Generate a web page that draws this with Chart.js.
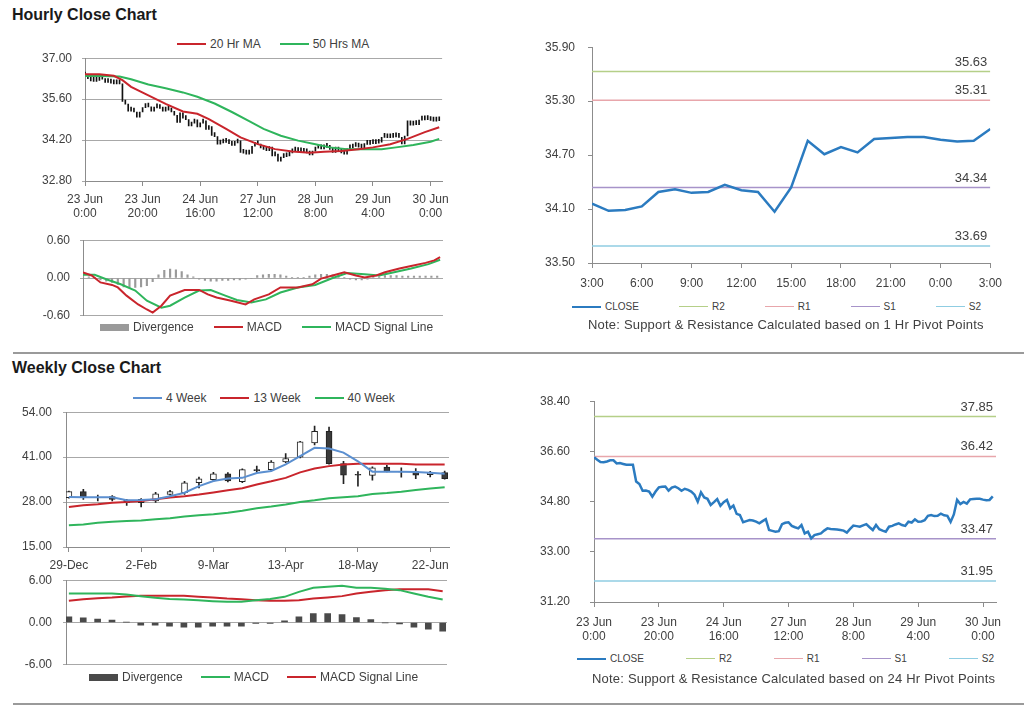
<!DOCTYPE html>
<html>
<head>
<meta charset="utf-8">
<script src="https://cdn.jsdelivr.net/npm/chart.js@4.4.1/dist/chart.umd.min.js"></script>
<style>
  body { margin: 0; width: 1024px; height: 706px; position: relative; background: #fff; font-family: "Liberation Sans", Arial, sans-serif; overflow: hidden; }
  .box { position: absolute; }
  .title { position: absolute; left: 12px; font-size: 16px; font-weight: bold; color: #1a1a1a; }
  .sep { position: absolute; left: 13px; width: 1011px; height: 2px; background: #9a9a9a; }
  .legend { position: absolute; display: flex; align-items: center; font-size: 12px; color: #404040; white-space: nowrap; }
  .legend.small { font-size: 10px; }
  .legend .sw { display: inline-block; width: 29px; margin-right: 4px; }
  .note { position: absolute; font-size: 13px; letter-spacing: 0.2px; color: #404040; white-space: nowrap; }
</style>
</head>
<body>
<div class="title" style="top:6px">Hourly Close Chart</div>
<div class="legend" id="legHourly" style="left:177px;top:37px"></div>
<div class="box" style="left:0;top:41px;width:455px;height:184px"><canvas id="hourlyPrice"></canvas></div>
<div class="box" style="left:0;top:223px;width:455px;height:110px"><canvas id="hourlyMacd"></canvas></div>
<div class="legend" id="legHourlyMacd" style="left:100px;top:320px"></div>
<div class="box" style="left:520px;top:27px;width:490px;height:266px"><canvas id="hourPivot"></canvas></div>
<div class="legend small" id="legHourPivot" style="left:572px;top:301px"></div>
<div class="note" style="left:588px;top:317px">Note: Support &amp; Resistance Calculated based on 1 Hr Pivot Points</div>
<div class="sep" style="top:352px"></div>

<div class="title" style="top:359px">Weekly Close Chart</div>
<div class="legend" id="legWeekly" style="left:133px;top:391px"></div>
<div class="box" style="left:0;top:394px;width:456px;height:179px"><canvas id="weeklyPrice"></canvas></div>
<div class="box" style="left:0;top:562px;width:456px;height:121px"><canvas id="weeklyMacd"></canvas></div>
<div class="legend" id="legWeeklyMacd" style="left:89px;top:670px"></div>
<div class="box" style="left:520px;top:374px;width:490px;height:273px"><canvas id="dayPivot"></canvas></div>
<div class="legend small" id="legDayPivot" style="left:577px;top:653px"></div>
<div class="note" style="left:592px;top:671px">Note: Support &amp; Resistance Calculated based on 24 Hr Pivot Points</div>
<div class="sep" style="top:703px"></div>

<script>
// ---- hourly data (23 Jun 0:00 .. 30 Jun 3:00, trading hours) ----
const hourDays = ["23 Jun", "24 Jun", "27 Jun", "28 Jun", "29 Jun", "30 Jun"];
const hourlyLabels = [];
hourDays.forEach(d => { for (let h = 0; h < 24; h++) hourlyLabels.push([d, h + ":00"]); });
hourlyLabels.length = 124;

const hourlyClose = [
  36.39, 36.30, 36.22, 36.21, 36.24, 36.28, 36.28, 36.17, 36.18, 36.15,
  36.12, 36.12, 36.12, 35.52, 35.43, 35.19, 35.20, 35.16, 34.98, 35.16,
  35.31, 35.33, 35.34, 35.19, 35.30, 35.34, 35.28, 35.19, 35.26, 35.22,
  35.16, 35.05, 34.80, 35.13, 34.95, 34.90, 34.68, 34.78, 34.89, 34.65,
  34.78, 34.86, 34.56, 34.66, 34.36, 34.32, 34.06, 34.10, 34.14, 34.12,
  34.08, 34.02, 34.10, 34.17, 33.78, 33.75, 33.72, 33.74, 33.99, 34.04,
  34.06, 33.93, 33.88, 33.84, 33.96, 33.66, 33.72, 33.48, 33.60, 33.63,
  33.66, 33.76, 33.84, 33.82, 33.81, 33.80, 33.78, 33.76, 33.69, 33.82,
  33.94, 33.92, 33.90, 33.95, 33.99, 33.88, 33.78, 33.96, 33.81, 33.76,
  33.72, 33.90, 33.93, 33.98, 34.02, 33.96, 33.93, 34.08, 34.05, 34.16,
  34.08, 34.09, 34.13, 34.29, 34.32, 34.28, 34.29, 34.37, 34.31, 34.29,
  34.07, 34.34, 34.86, 34.71, 34.79, 34.73, 34.88, 34.89, 34.90, 34.90,
  34.87, 34.85, 34.86, 34.99
];

// moving averages as [hour index, value]
const ma20Hr = [[0,36.45],[5,36.45],[10,36.40],[13,36.25],[16,36.02],[22,35.73],[28,35.44],[34,35.18],[39,35.10],[43,34.92],[49,34.58],[54,34.29],[60,34.06],[66,33.89],[72,33.81],[78,33.77],[83,33.80],[89,33.83],[95,33.89],[100,33.95],[106,34.06],[112,34.24],[118,34.47],[123,34.64]];
const ma50Hr = [[0,36.39],[5,36.39],[12,36.37],[16,36.28],[22,36.10],[28,35.97],[34,35.83],[39,35.68],[45,35.45],[51,35.16],[57,34.85],[62,34.58],[68,34.35],[74,34.18],[80,34.06],[85,33.95],[91,33.89],[97,33.89],[103,33.89],[108,33.95],[114,34.03],[120,34.14],[123,34.24]];

const macdHr = [[0,0.09],[3,0.04],[6,-0.07],[10,-0.11],[12,-0.15],[15,-0.28],[19,-0.42],[22,-0.50],[24,-0.55],[27,-0.44],[30,-0.28],[35,-0.19],[40,-0.19],[43,-0.26],[46,-0.31],[51,-0.36],[56,-0.42],[59,-0.34],[64,-0.26],[68,-0.15],[74,-0.15],[79,-0.10],[82,-0.01],[86,0.04],[90,0.09],[94,0.04],[97,0.01],[101,0.04],[104,0.09],[109,0.15],[113,0.19],[118,0.24],[121,0.28],[123,0.33]];
const signalHr = [[0,0.05],[4,0.05],[8,-0.02],[13,-0.10],[18,-0.20],[22,-0.36],[27,-0.47],[30,-0.44],[35,-0.31],[40,-0.20],[44,-0.19],[49,-0.28],[53,-0.35],[58,-0.39],[63,-0.34],[68,-0.23],[74,-0.15],[80,-0.11],[86,0.00],[91,0.08],[97,0.06],[102,0.04],[106,0.08],[113,0.15],[119,0.22],[123,0.29]];
// divergence, one bar every 2nd hour
const divergenceHr = [
  0.04, 0.02, 0.01, -0.03, -0.05, -0.07, -0.10, -0.14, -0.15, -0.15,
  -0.14, -0.12, -0.06, 0.05, 0.12, 0.14, 0.13, 0.10, 0.05, 0.02,
  -0.02, -0.04, -0.05, -0.05, -0.04, -0.04, -0.03, -0.03, -0.02, -0.01,
  0.04, 0.05, 0.06, 0.06, 0.05, 0.03, 0.01, 0.01, 0.01, 0.03,
  0.05, 0.06, 0.06, 0.05, 0.04, 0.01, -0.02, -0.03, -0.03, -0.02,
  0.005, 0.02, 0.04, 0.04, 0.04, 0.03, 0.03, 0.03, 0.03, 0.03,
  0.03, 0.03
];

// pivot levels
const levelNames = ["R2", "R1", "S1", "S2"];
const levelColors = ["#b5cf88", "#e8a6ab", "#a793c9", "#8fcde2"];
const hourLevels = [35.63, 35.31, 34.34, 33.69];
const dayLevels = [37.85, 36.42, 33.47, 31.95];
const pivotStart = 99; // 29 Jun 3:00

// ---- weekly data ----
const weekLabels = ["29-Dec","5-Jan","12-Jan","19-Jan","26-Jan","2-Feb","9-Feb","16-Feb","23-Feb","2-Mar","9-Mar","16-Mar","23-Mar","30-Mar","6-Apr","13-Apr","20-Apr","27-Apr","4-May","11-May","18-May","25-May","1-Jun","8-Jun","15-Jun","22-Jun","29-Jun"];
const weeklyOpen  = [29.3,31.0,29.4,29.6,28.6,27.8,28.3,30.2,30.7,33.6,34.5,36.2,33.9,37.4,37.4,39.6,41.0,45.1,48.5,39.1,36.0,35.7,38.1,36.8,36.8,35.9,36.5];
const weeklyHigh  = [31.2,31.7,30.0,29.9,28.8,29.0,30.8,31.4,34.0,35.2,36.6,36.5,37.6,38.4,40.0,42.0,45.6,50.0,49.7,39.8,36.8,38.2,38.6,37.9,37.7,36.9,37.0];
const weeklyLow   = [29.1,28.8,28.3,28.3,27.0,26.6,27.9,30.0,30.2,32.1,34.0,33.8,33.6,36.5,37.0,39.4,40.8,44.5,39.0,33.3,32.6,34.3,36.7,35.2,34.8,35.3,34.6];
const weeklyClose = [31.0,29.4,29.3,28.8,27.8,28.8,30.4,31.0,33.6,34.7,36.2,34.1,37.4,37.1,39.6,40.6,45.4,48.5,39.1,35.8,35.8,37.9,36.9,36.7,35.8,36.5,34.8];
const ma4Wk  = [29.5,29.4,29.4,29.4,28.5,28.6,28.8,29.7,30.7,32.6,34.1,34.8,35.0,36.4,37.0,38.9,41.3,43.7,43.5,42.3,39.8,36.8,36.8,36.8,36.7,36.5,36.2];
const ma13Wk = [26.6,27.1,27.4,27.8,28.0,28.3,28.8,29.3,29.7,30.2,30.8,31.4,32.0,33.1,34.0,35.0,36.6,37.7,38.4,38.9,39.1,39.1,39.1,39.1,38.9,38.9,38.9];
const ma40Wk = [21.3,21.5,22.0,22.3,22.5,22.7,23.0,23.3,23.8,24.2,24.5,24.9,25.5,26.2,26.7,27.3,28.0,28.5,29.1,29.4,29.7,30.3,30.6,31.0,31.5,31.9,32.3];
const divergenceWk = [0.80,0.66,0.47,0.33,0.05,-0.38,-0.38,-0.52,-0.66,-0.66,-0.52,-0.52,-0.52,-0.14,-0.14,0.24,0.80,1.28,1.28,1.13,0.71,0.43,-0.05,-0.19,-0.66,-0.95,-1.23];
const macdWk   = [4.11,4.11,4.11,4.11,3.97,3.74,3.50,3.35,3.26,3.17,3.03,2.93,2.93,3.17,3.35,3.64,4.35,4.92,5.06,5.20,4.92,4.92,4.80,4.59,4.11,3.64,3.26];
const signalWk = [3.07,3.30,3.45,3.55,3.70,3.78,3.78,3.78,3.78,3.65,3.55,3.40,3.31,3.17,3.07,3.07,3.17,3.40,3.55,3.74,4.11,4.35,4.59,4.73,4.73,4.73,4.44];

const RED = "#c9252c", GREEN = "#2fb55c", BLUE = "#5b8fd0", CLOSE_BLUE = "#2b7bc0";
const GRID = "#a8a8a8", AXIS = "#8c8c8c", TXT = "#404040";

Chart.defaults.font.family = '"Liberation Sans", Arial, sans-serif';
Chart.defaults.font.size = 12;
Chart.defaults.color = TXT;
Chart.defaults.animation = false;
Chart.defaults.maintainAspectRatio = false;
Chart.defaults.plugins.legend.display = false;
Chart.defaults.plugins.tooltip.enabled = false;
Chart.defaults.elements.point.radius = 0;

const pts = arr => arr.map((v, i) => ({ x: i, y: v }));
const pairs = arr => arr.map(p => ({ x: p[0], y: p[1] }));

function valueAxis(min, max, step, width, gridOn, pad) {
  return {
    type: "linear", min, max,
    border: { color: AXIS },
    grid: { drawOnChartArea: gridOn, color: gridOn ? GRID : AXIS, tickLength: gridOn ? 3 : 4 },
    ticks: { stepSize: step, padding: pad, color: TXT, callback: v => v.toFixed(2) },
    afterFit: s => { s.width = width; }
  };
}
function indexAxis(min, max, step, height, label, pad) {
  return {
    type: "linear", min, max, offset: false,
    display: height > 0,
    border: { color: AXIS },
    grid: { offset: false, drawOnChartArea: false, color: AXIS, tickLength: 5 },
    ticks: { stepSize: step, includeBounds: false, autoSkip: false, maxRotation: 0, padding: pad, color: TXT, callback: label },
    afterFit: s => { s.height = height; }
  };
}

// value tags above the pivot lines
const levelTags = {
  id: "levelTags",
  afterDatasetsDraw(chart, args, opts) {
    const { ctx, chartArea, scales } = chart;
    ctx.save();
    ctx.font = '13px "Liberation Sans", Arial, sans-serif';
    ctx.fillStyle = TXT;
    ctx.textAlign = "right";
    ctx.textBaseline = "bottom";
    opts.levels.forEach(v => ctx.fillText(v.toFixed(2), chartArea.right - 3, scales.y.getPixelForValue(v) - 3));
    ctx.restore();
  }
};

function htmlLegend(chart, id, gap) {
  const el = document.getElementById(id);
  chart.data.datasets.filter(d => d.label).forEach((d, i) => {
    const item = document.createElement("span");
    item.style.display = "inline-flex";
    item.style.alignItems = "center";
    if (i) item.style.marginLeft = gap + "px";
    const sw = document.createElement("span");
    sw.className = "sw";
    if (d.type === "bar") { sw.style.height = "7px"; sw.style.background = d.backgroundColor; }
    else { sw.style.height = Math.max(1, Math.floor(d.borderWidth)) + "px"; sw.style.background = d.borderColor; }
    item.appendChild(sw);
    item.appendChild(document.createTextNode(d.label));
    el.appendChild(item);
  });
}

// hourly close with moving averages
const hourlyPrice = new Chart(document.getElementById("hourlyPrice"), {
  type: "line",
  data: {
    datasets: [
      { label: "20 Hr MA", data: pairs(ma20Hr), borderColor: RED, borderWidth: 2, order: 1 },
      { label: "50 Hrs MA", data: pairs(ma50Hr), borderColor: GREEN, borderWidth: 2, order: 2 },
      { type: "bar", data: hourlyClose.map((c, i) => ({ x: i, y: [i ? hourlyClose[i - 1] : c, c] })),
        backgroundColor: "#111", barThickness: 1, minBarLength: 4, order: 3 }
    ]
  },
  options: {
    layout: { padding: { right: 12 } },
    scales: {
      x: indexAxis(0, 124, 20, 44, v => hourlyLabels[v], 6),
      y: valueAxis(32.8, 37, 1.4, 85, true, 10)
    }
  }
});
htmlLegend(hourlyPrice, "legHourly", 19);

const hourlyMacd = new Chart(document.getElementById("hourlyMacd"), {
  type: "line",
  data: {
    datasets: [
      { type: "bar", label: "Divergence", data: divergenceHr.map((v, k) => ({ x: k * 2, y: v })),
        backgroundColor: "#9a9a9a", barThickness: 1.5, order: 3 },
      { label: "MACD", data: pairs(macdHr), borderColor: RED, borderWidth: 2, order: 1 },
      { label: "MACD Signal Line", data: pairs(signalHr), borderColor: GREEN, borderWidth: 2, order: 2 }
    ]
  },
  options: {
    layout: { padding: { right: 12 } },
    scales: {
      x: indexAxis(0, 124, 20, 0, v => "", 0),
      y: valueAxis(-0.6, 0.6, 0.6, 83, true, 10)
    }
  }
});
htmlLegend(hourlyMacd, "legHourlyMacd", 20);

function pivotChart(canvasId, closeData, xMax, levels, xAxis, yAxis) {
  return new Chart(document.getElementById(canvasId), {
    type: "line",
    data: {
      datasets: [{ label: "CLOSE", data: closeData, borderColor: CLOSE_BLUE, borderWidth: 2.5, order: 0 }]
        .concat(levelNames.map((n, k) => ({
          label: n, data: [{ x: 0, y: levels[k] }, { x: xMax, y: levels[k] }],
          borderColor: levelColors[k], borderWidth: 1.5, order: 1
        })))
    },
    options: {
      layout: { padding: { right: 14 } },
      scales: { x: xAxis, y: yAxis },
      plugins: { levelTags: { levels } }
    },
    plugins: [levelTags]
  });
}

const hourPivot = pivotChart("hourPivot", pts(hourlyClose.slice(pivotStart)), 24, hourLevels,
  indexAxis(0, 24, 3, 30, v => hourlyLabels[pivotStart + v][1], 8),
  valueAxis(33.5, 35.9, 0.6, 72, false, 13));
htmlLegend(hourPivot, "legHourPivot", 40);

// weekly candles with moving averages
const weeklyPrice = new Chart(document.getElementById("weeklyPrice"), {
  type: "line",
  data: {
    datasets: [
      { label: "4 Week", data: pts(ma4Wk), borderColor: BLUE, borderWidth: 2, order: 1 },
      { label: "13 Week", data: pts(ma13Wk), borderColor: RED, borderWidth: 2, order: 2 },
      { label: "40 Week", data: pts(ma40Wk), borderColor: GREEN, borderWidth: 2, order: 3 },
      { type: "bar", data: weeklyOpen.map((o, i) => ({ x: i, y: [o, weeklyClose[i]] })),
        backgroundColor: weeklyOpen.map((o, i) => weeklyClose[i] >= o ? "#ffffff" : "#3a3a3a"),
        borderColor: "#222", borderWidth: 1, borderSkipped: false, barThickness: 6, grouped: false, order: 4 },
      { type: "bar", data: weeklyLow.map((l, i) => ({ x: i, y: [l, weeklyHigh[i]] })),
        backgroundColor: "#222", barThickness: 1, grouped: false, order: 5 }
    ]
  },
  options: {
    layout: { padding: { right: 7 } },
    scales: {
      x: indexAxis(-0.2, 26.3, 5, 26, v => weekLabels[v], 6),
      y: valueAxis(15, 54, 13, 66, true, 11)
    }
  }
});
htmlLegend(weeklyPrice, "legWeekly", 14);

const weeklyMacd = new Chart(document.getElementById("weeklyMacd"), {
  type: "line",
  data: {
    datasets: [
      { type: "bar", label: "Divergence", data: pts(divergenceWk), backgroundColor: "#4a4a4a", barThickness: 6, order: 3 },
      { label: "MACD", data: pts(macdWk), borderColor: GREEN, borderWidth: 2, order: 1 },
      { label: "MACD Signal Line", data: pts(signalWk), borderColor: RED, borderWidth: 2, order: 2 }
    ]
  },
  options: {
    layout: { padding: { right: 9 } },
    scales: {
      x: indexAxis(-0.2, 26.3, 5, 0, v => "", 0),
      y: valueAxis(-6, 6, 6, 66, true, 11)
    }
  }
});
htmlLegend(weeklyMacd, "legWeeklyMacd", 18);

const dayPivot = pivotChart("dayPivot", pts(hourlyClose), 124, dayLevels,
  indexAxis(0, 124, 20, 45, v => hourlyLabels[v], 8),
  valueAxis(31.2, 38.4, 1.8, 74, false, 20));
htmlLegend(dayPivot, "legDayPivot", 42);
</script>
</body>
</html>
